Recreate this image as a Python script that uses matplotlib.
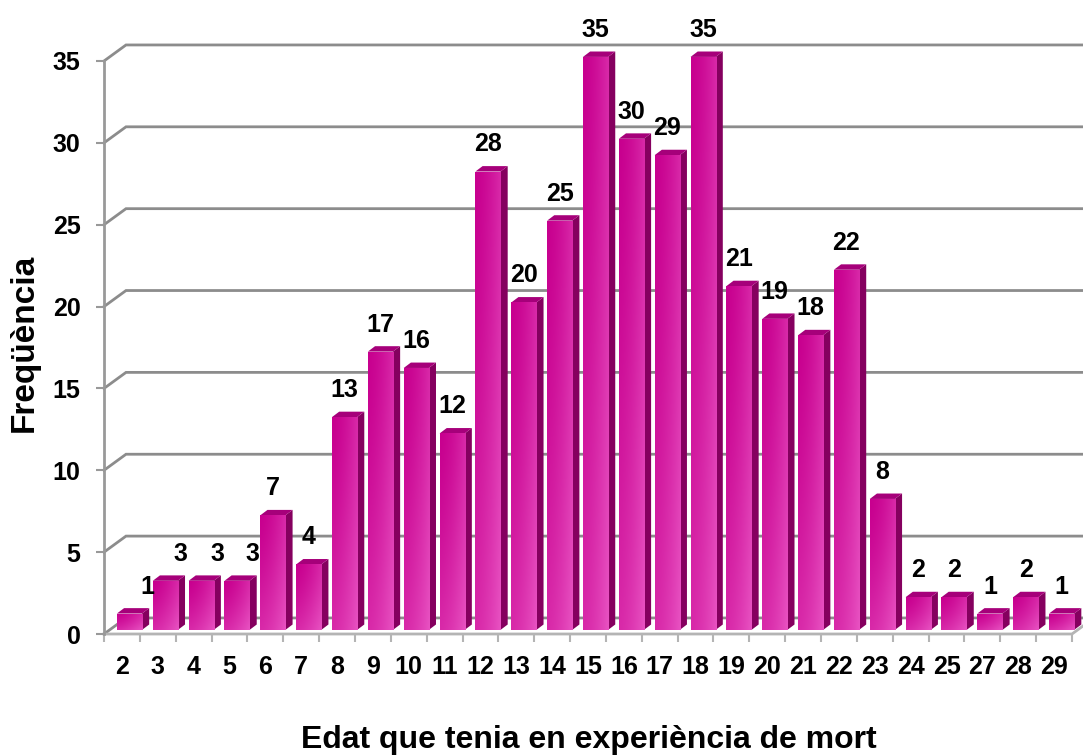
import numpy as np
import matplotlib
matplotlib.use('Agg')
import matplotlib.pyplot as plt
from matplotlib.patches import Polygon
from matplotlib.colors import to_rgb

# Age at the near-death experience and how many people reported it
ages = ['2', '3', '4', '5', '6', '7', '8', '9', '10', '11', '12', '13', '14', '15',
        '16', '17', '18', '19', '20', '21', '22', '23', '24', '25', '27', '28', '29']
counts = [1, 3, 3, 3, 7, 4, 13, 17, 16, 12, 28, 20, 25, 35,
          30, 29, 35, 21, 19, 18, 22, 8, 2, 2, 1, 2, 1]
yticks = [0, 5, 10, 15, 20, 25, 30, 35]

plt.rcParams['font.family'] = ['Liberation Sans', 'DejaVu Sans']
plt.rcParams['font.weight'] = 'bold'

W, H = 1083, 756
fig = plt.figure(figsize=(W / 100, H / 100), dpi=100)
ax = fig.add_axes([104 / W, (H - 634) / H, (1072 - 104) / W, (634 - 61) / H])
n = len(ages)
ax.set_xlim(-0.5, n - 0.5)
ax.set_ylim(0, 35)
ax.set_autoscale_on(False)

# 3D look: depth of the back wall and of each bar (in data units)
DX, DY = 0.614, 0.98
SX, SY = 0.21, 0.25
BW = 0.70
BDX, BDY = 0.20, 0.33

grid_col = '#8c8c8c'
floor_col = '#b4b4b4'

# back wall gridlines with the slanted join to the value axis
for v in yticks:
    ax.plot([-0.5, -0.5 + DX, n - 0.5 + DX], [v, v + DY, v + DY],
            color=grid_col, lw=2, clip_on=False, zorder=1, solid_joinstyle='miter')
# floor front edge and right edge
ax.plot([-0.5, n - 0.5, n - 0.5 + DX], [0, 0, DY], color=floor_col, lw=2,
        clip_on=False, zorder=1)

for s in ['top', 'right', 'bottom']:
    ax.spines[s].set_visible(False)
ax.spines['left'].set_color('#999999')
ax.spines['left'].set_linewidth(2)

ax.set_yticks(yticks)
ax.set_yticklabels([str(v) for v in yticks], fontsize=18, fontweight='bold')
ax.tick_params(axis='y', length=6, width=1.5, color='#999999', pad=11)

ax.set_xticks(np.arange(-0.5, n, 1.0))
ax.set_xticklabels([])
ax.tick_params(axis='x', which='major', length=6, width=1.5, color=floor_col)
ax.set_xticks(np.arange(n), minor=True)
ax.set_xticklabels(ages, minor=True, fontsize=18, fontweight='bold')
ax.tick_params(axis='x', which='minor', length=0, pad=15)

base = np.array(to_rgb('#c8008f'))
light = np.array(to_rgb('#ec5cc8'))
gx = np.linspace(0, 1, 48)
gy = np.linspace(1, 0, 96)
GX, GY = np.meshgrid(gx, gy)
w = np.clip(0.45 * GX ** 1.5 + 0.45 * (1 - GY) ** 1.3, 0, 1)
grad = base[None, None, :] * (1 - w[..., None]) + light[None, None, :] * w[..., None]

bars = ax.bar(np.arange(n) + SX, counts, width=BW, bottom=SY, color='#c8008f',
              zorder=3, clip_on=False)
for rect, c in zip(bars, counts):
    l = rect.get_x()
    r = l + rect.get_width()
    b = rect.get_y()
    t = b + rect.get_height()
    im = ax.imshow(grad, extent=[l, r, b, t], aspect='auto', interpolation='bilinear',
                   zorder=3.1)
    im.set_clip_path(rect)
    im.set_clip_on(True)
    side = Polygon([(r, b), (r + BDX, b + BDY), (r + BDX, t + BDY), (r, t)],
                   closed=True, facecolor='#85005f', edgecolor='none', zorder=3,
                   clip_on=False)
    top = Polygon([(l, t), (l + BDX, t + BDY), (r + BDX, t + BDY), (r, t)],
                  closed=True, facecolor='#a6007a', edgecolor='none', zorder=3,
                  clip_on=False)
    ax.add_patch(side)
    ax.add_patch(top)

# value labels; the first few sit a little to the right of their bars
nudge = {0: 0.5, 1: 0.42, 2: 0.45, 3: 0.42}
for i, c in enumerate(counts):
    ax.text(i + SX + nudge.get(i, 0), c + SY + 1.65, str(c), ha='center', va='center',
            fontsize=18, fontweight='bold', zorder=5, clip_on=False)

fig.text(24 / W, 1 - 343 / H, 'Freqüència', rotation=90, ha='center', va='center',
         fontsize=24, fontweight='bold')
fig.text(589 / W, 1 - 740 / H, 'Edat que tenia en experiència de mort', ha='center',
         va='center', fontsize=23, fontweight='bold')

fig.savefig('out.png', dpi=100)
